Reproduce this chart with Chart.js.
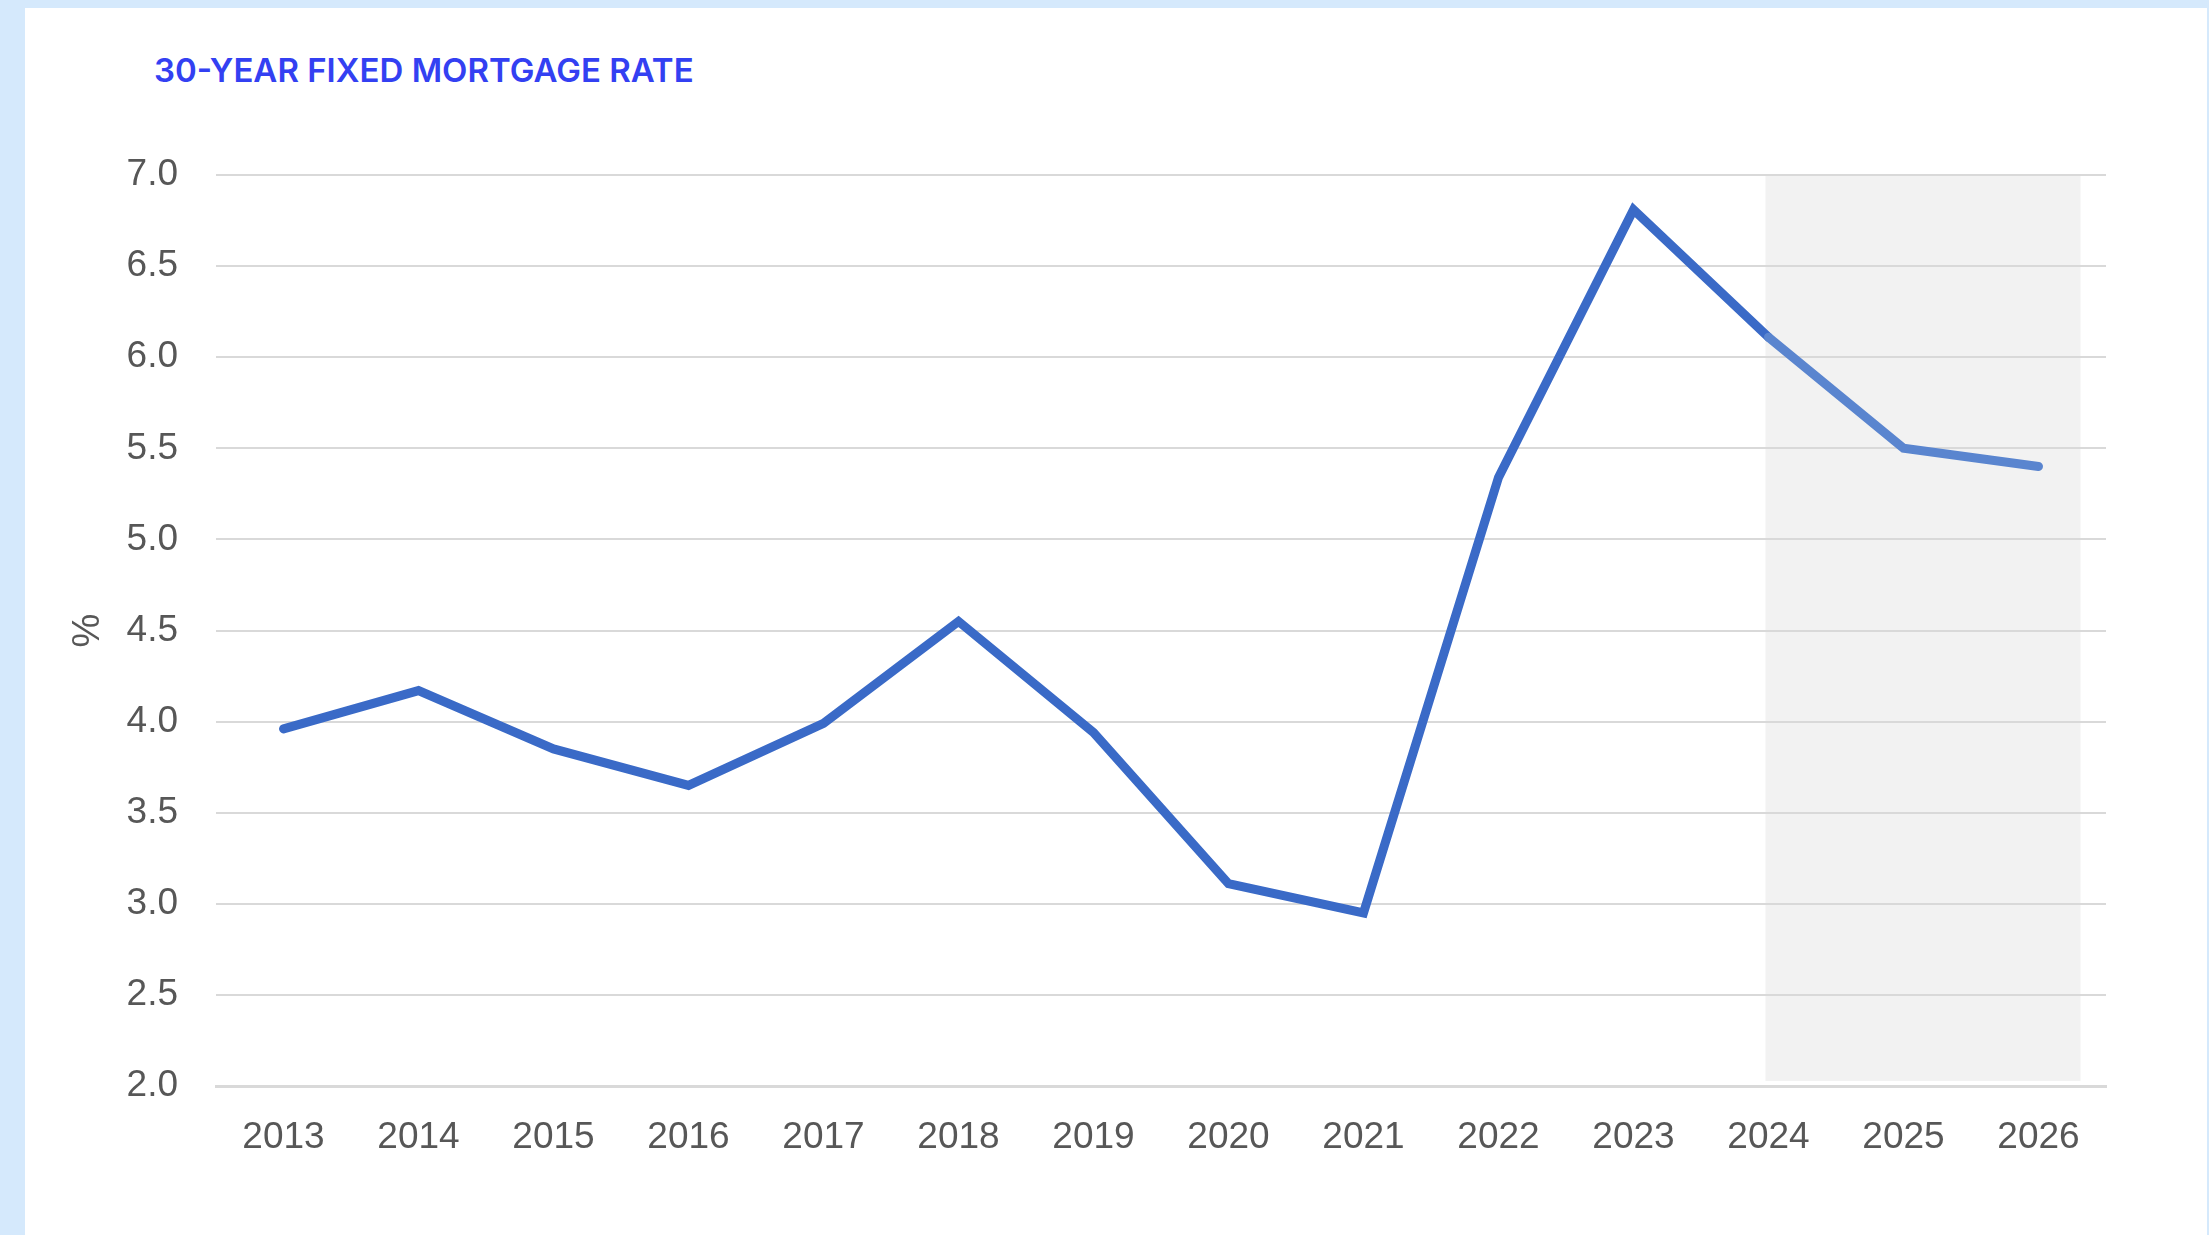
<!DOCTYPE html>
<html>
<head>
<meta charset="utf-8">
<title>30-Year Fixed Mortgage Rate</title>
<script src="https://cdn.jsdelivr.net/npm/chart.js@4.4.1/dist/chart.umd.min.js"></script>
<style>
  html, body { margin: 0; padding: 0; }
  body {
    width: 2209px;
    height: 1235px;
    background: #d5e9fc;
    position: relative;
    overflow: hidden;
  }
  .panel {
    position: absolute;
    left: 25px;
    top: 8px;
    width: 2182px;
    height: 1227px;
    background: #ffffff;
  }
  .chart-title {
    position: absolute;
    left: 154px;
    top: 54px;
    font-family: 'Inter', sans-serif;
    font-weight: 600;
    font-size: 33px;
    line-height: 33px;
    color: #3340f2;
    white-space: nowrap;
  }
  #rateChart {
    position: absolute;
    left: 0;
    top: 0;
  }
</style>
</head>
<body>
  <div class="panel"></div>
  <div class="chart-title">30-YEAR FIXED MORTGAGE RATE</div>
  <canvas id="rateChart" width="2209" height="1235"></canvas>

<script>
// Data
const years = ['2013', '2014', '2015', '2016', '2017', '2018', '2019',
               '2020', '2021', '2022', '2023', '2024', '2025', '2026'];
const rates = [3.96, 4.17, 3.85, 3.65, 3.99, 4.55, 3.94,
               3.11, 2.95, 5.34, 6.81, 6.11, 5.50, 5.40];
const yTicks = [2.0, 2.5, 3.0, 3.5, 4.0, 4.5, 5.0, 5.5, 6.0, 6.5, 7.0];
const forecastFrom = '2024';

const LINE_BLUE = '#3a6ac7';
const LINE_BLUE_LIGHT = '#5a85cf';
const GRID = '#d9d9d9';
const LABEL = '#575757';

// Grey band behind the forecast years
const forecastShade = {
  id: 'forecastShade',
  beforeDraw(chart) {
    const { ctx, chartArea, scales } = chart;
    const x0 = scales.x.getPixelForValue(years.indexOf(forecastFrom)) - 3;
    const x1 = scales.x.getPixelForValue(years.length - 1) + 42;
    ctx.save();
    ctx.fillStyle = '#f2f2f2';
    ctx.fillRect(x0, chartArea.top, x1 - x0, chartArea.bottom - chartArea.top - 5);
    ctx.restore();
  }
};

const forecastIdx = years.indexOf(forecastFrom);

new Chart(document.getElementById('rateChart'), {
  type: 'line',
  data: {
    labels: years,
    datasets: [{
      label: '30-year fixed',
      data: rates,
      borderColor: LINE_BLUE,
      borderWidth: 9,
      borderCapStyle: 'round',
      borderJoinStyle: 'miter',
      pointRadius: 0,
      tension: 0,
      fill: false,
      segment: {
        borderColor: c => c.p0DataIndex >= forecastIdx ? LINE_BLUE_LIGHT : LINE_BLUE
      }
    }]
  },
  options: {
    responsive: false,
    animation: false,
    devicePixelRatio: 1,
    layout: {
      padding: { left: 0, top: 175, right: 103, bottom: 49 }
    },
    plugins: {
      legend: { display: false },
      tooltip: { enabled: false },
      title: { display: false }
    },
    scales: {
      x: {
        offset: true,
        grid: { display: false, drawTicks: false },
        border: { display: true, color: GRID, width: 3 },
        ticks: {
          color: LABEL,
          padding: 30,
          maxRotation: 0,
          autoSkip: false,
          font: { family: "'Liberation Sans Narrow', 'Liberation Sans', Arial, sans-serif", size: 37 }
        },
        afterFit(scale) { scale.height = 100; }
      },
      y: {
        min: 2,
        max: 7,
        grid: { color: GRID, lineWidth: 2, drawTicks: false },
        border: { display: false },
        ticks: {
          color: LABEL,
          padding: 38,
          font: { family: "'Liberation Sans', Arial, sans-serif", size: 37 },
          callback: v => Number(v).toFixed(1)
        },
        afterBuildTicks(scale) {
          scale.ticks = yTicks.map(v => ({ value: v }));
        },
        title: {
          display: true,
          text: '%',
          color: LABEL,
          padding: { top: 66, bottom: 0 },
          font: { family: "'Liberation Sans', Arial, sans-serif", size: 38 }
        },
        afterFit(scale) { scale.width = 216; }
      }
    }
  },
  plugins: [forecastShade]
});
</script>
</body>
</html>
